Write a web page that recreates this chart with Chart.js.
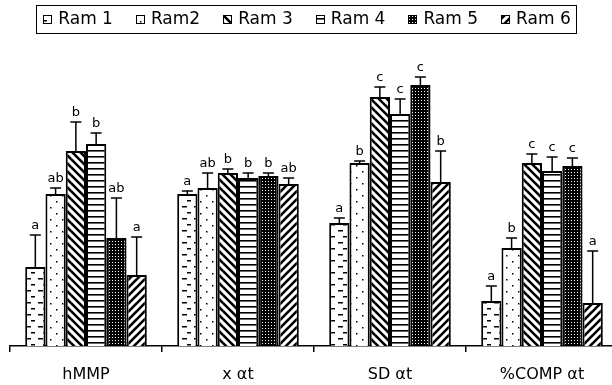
<!DOCTYPE html>
<html>
<head>
<meta charset="utf-8">
<script src="https://cdn.jsdelivr.net/npm/chart.js@4"></script>
<style>
  html, body { margin: 0; padding: 0; background: #fff; overflow: hidden; }
  #wrap { width: 620px; height: 385px; }
</style>
</head>
<body>
<div id="wrap"><canvas id="chart" width="620" height="385"></canvas></div>
<script>
// Données (hauteurs relatives, même échelle pour tout)
const categories = ['hMMP', 'x \u03b1t', 'SD \u03b1t', '%COMP \u03b1t'];
const seriesNames = ['Ram 1', 'Ram2', 'Ram 3', 'Ram 4', 'Ram 5', 'Ram 6'];

const ram1 = [79, 152, 123, 45];
const ram2 = [152, 158, 183, 98];
const ram3 = [195, 173, 249, 183];
const ram4 = [202, 168, 232, 175];
const ram5 = [108, 170, 261, 180];
const ram6 = [71, 162, 164, 43];

const err1 = [32, 3, 5, 15];
const err2 = [6, 15, 2, 10];
const err3 = [29, 4, 10, 9];
const err4 = [11, 5, 15, 14];
const err5 = [40, 3, 8, 8];
const err6 = [38, 6, 31, 52];

const let1 = ['a', 'a', 'a', 'a'];
const let2 = ['ab', 'ab', 'b', 'b'];
const let3 = ['b', 'b', 'c', 'c'];
const let4 = ['b', 'b', 'c', 'c'];
const let5 = ['ab', 'b', 'c', 'c'];
const let6 = ['a', 'ab', 'b', 'a'];

const values = [ram1, ram2, ram3, ram4, ram5, ram6];
const errors = [err1, err2, err3, err4, err5, err6];
const letters = [let1, let2, let3, let4, let5, let6];

// --- motifs de remplissage ---
function tile(size, draw) {
  const c = document.createElement('canvas');
  c.width = size; c.height = size;
  const g = c.getContext('2d');
  g.fillStyle = '#fff';
  g.fillRect(0, 0, size, size);
  g.fillStyle = '#000';
  g.strokeStyle = '#000';
  draw(g, size);
  return g.createPattern(c, 'repeat');
}

const patterns = [
  // tirets en quinconce
  tile(12, (g) => { g.fillRect(2, 2, 5, 1.5); g.fillRect(7, 8, 4, 1.5); }),
  // points épars
  tile(12, (g) => { g.fillRect(2, 3, 1.5, 1.5); g.fillRect(8, 9, 1.5, 1.5); }),
  // hachures "\"
  tile(8, (g, s) => {
    g.lineWidth = 2.6;
    for (let k = -1; k <= 1; k++) {
      g.beginPath(); g.moveTo(-2, k * s - 2); g.lineTo(s + 2, s + k * s + 2); g.stroke();
    }
  }),
  // lignes horizontales
  tile(6, (g, s) => { g.fillRect(0, 0, s, 1.6); }),
  // trame serrée
  tile(3, (g, s) => { g.fillRect(0, 0, s, s); g.fillStyle = '#fff'; g.fillRect(1, 1, 1, 1); }),
  // hachures "/"
  tile(8, (g, s) => {
    g.lineWidth = 2.6;
    for (let k = -1; k <= 1; k++) {
      g.beginPath(); g.moveTo(-2, s + k * s + 2); g.lineTo(s + 2, k * s - 2); g.stroke();
    }
  }),
];

// barres d'erreur (vers le haut) + lettres
const errorBars = {
  id: 'errorBars',
  afterDatasetsDraw(chart) {
    const ctx = chart.ctx;
    const y = chart.scales.y;
    ctx.save();
    ctx.strokeStyle = '#000';
    ctx.fillStyle = '#000';
    ctx.lineWidth = 1.5;
    ctx.font = '13px "DejaVu Sans"';
    ctx.textAlign = 'center';
    ctx.textBaseline = 'alphabetic';
    chart.data.datasets.forEach((ds, i) => {
      chart.getDatasetMeta(i).data.forEach((bar, j) => {
        const top = y.getPixelForValue(ds.data[j] + errors[i][j]);
        const base = y.getPixelForValue(ds.data[j]);
        ctx.beginPath();
        ctx.moveTo(bar.x, base);
        ctx.lineTo(bar.x, top);
        ctx.moveTo(bar.x - 5.5, top);
        ctx.lineTo(bar.x + 5.5, top);
        ctx.stroke();
        ctx.fillText(letters[i][j], bar.x, top - 6);
      });
    });
    ctx.restore();
  }
};

// légende encadrée, dessinée à la main
const boxLegend = {
  id: 'boxLegend',
  afterDraw(chart) {
    const ctx = chart.ctx;
    const sw = 8, gapText = 7, gapItem = 23, center = 307;
    ctx.save();
    ctx.font = '17px "DejaVu Sans"';
    const items = chart.data.datasets.map((ds, i) => ({
      text: ds.label, fill: ds.backgroundColor, w: ctx.measureText(ds.label).width,
    }));
    const total = items.reduce((s, it) => s + sw + gapText + it.w, 0) + gapItem * (items.length - 1);
    let x = center - total / 2;
    ctx.strokeStyle = '#000';
    ctx.lineWidth = 1;
    ctx.strokeRect(Math.round(x - 7) + 0.5, 5.5, Math.round(total + 13), 28);
    ctx.textBaseline = 'middle';
    ctx.fillStyle = '#000';
    items.forEach((it) => {
      const bx = Math.round(x) + 0.5;
      ctx.fillStyle = it.fill;
      ctx.fillRect(bx, 15.5, sw, sw);
      ctx.strokeRect(bx, 15.5, sw, sw);
      ctx.fillStyle = '#000';
      ctx.fillText(it.text, x + sw + gapText, 20);
      x += sw + gapText + it.w + gapItem;
    });
    ctx.restore();
  }
};

new Chart(document.getElementById('chart'), {
  type: 'bar',
  data: {
    labels: categories,
    datasets: seriesNames.map((name, i) => ({
      label: name,
      data: values[i],
      backgroundColor: patterns[i],
      borderColor: '#000',
      borderWidth: 2,
      categoryPercentage: 0.8,
      barPercentage: 1.0,
    })),
  },
  options: {
    responsive: false,
    animation: false,
    events: [],
    layout: { padding: { left: 10, right: 2, top: 33, bottom: 0 } },
    plugins: {
      tooltip: { enabled: false },
      legend: { display: false },
    },
    scales: {
      x: {
        grid: { display: true, drawOnChartArea: false, drawTicks: true, tickLength: 6, color: '#000', lineWidth: 1.5 },
        border: { display: true, color: '#000', width: 1.5 },
        ticks: { color: '#000', font: { family: 'DejaVu Sans', size: 16 }, padding: 13, maxRotation: 0 },
        afterFit(scale) { scale.height = 39; },
      },
      y: {
        display: false,
        min: 0,
        max: 313,
      },
    },
  },
  plugins: [errorBars, boxLegend],
});
</script>
</body>
</html>
